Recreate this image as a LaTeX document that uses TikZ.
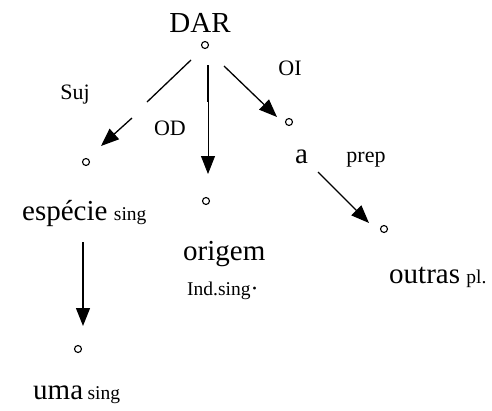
\documentclass[tikz,border=0pt]{standalone}
\usepackage{fontspec}
\setmainfont{Liberation Serif}
\usetikzlibrary{arrows.meta}
\begin{document}
\begin{tikzpicture}[x=1pt,y=-1pt,
  vertex/.style={circle,draw,line width=1.1pt,inner sep=0pt,minimum size=7pt},
  word/.style={font=\fontsize{29}{31}\selectfont,inner sep=0pt,anchor=base west},
  rel/.style={font=\fontsize{22}{24}\selectfont,inner sep=0pt,anchor=base},
  feat/.style={font=\fontsize{19.5}{21}\selectfont,inner sep=0pt,anchor=base west},
  link/.style={line width=1.3pt},
  thinlink/.style={line width=0.8pt},
  head/.style={-{Triangle[length=18pt,width=14pt]}},
]
\useasboundingbox (0,0) rectangle (492,410);

% words and their features
\node[word,anchor=base] (dar) at (200,32) {DAR};
\node[word] (especie) at (22,220) {espécie};
\node[feat] (especieF) at ([xshift=6pt]especie.base east) {sing};
\node[word] (uma) at (33,399) {uma};
\node[feat] (umaF) at ([xshift=4pt]uma.base east) {sing};
\node[word] (origem) at (183,260) {origem};
\node[feat] (origemF) at (187,295) {Ind.sing{\fontsize{24}{24}\selectfont\raisebox{-1pt}{·}}};
\node[word] (a) at (295,163) {a};
\node[word] (outras) at (389,283) {outras};
\node[feat] (outrasF) at ([xshift=6pt]outras.base east) {pl.};

% relation labels
\node[rel] (suj) at (75,99) {Suj};
\node[rel] (od) at (170,135) {OD};
\node[rel] (oi) at (290,75) {OI};
\node[rel] (prep) at (366,162) {prep};

% tree vertices
\node[vertex] (vDar) at (205,45) {};
\node[vertex] (vEspecie) at (86,162) {};
\node[vertex] (vOrigem) at (206,201) {};
\node[vertex] (vA) at (289,122) {};
\node[vertex] (vUma) at (78,349) {};
\node[vertex] (vOutras) at (384,229) {};

% connector end points
\coordinate (sujA) at (191,60);
\coordinate (sujB) at (147,102);
\coordinate (sujC) at (132,118);
\coordinate (sujD) at (101,146);
\coordinate (odA) at (208,65);
\coordinate (odB) at (208,102);
\coordinate (odC) at (208,174);
\coordinate (oiA) at (224,66);
\coordinate (oiB) at (277,117);
\coordinate (umaA) at (83,242);
\coordinate (umaB) at (83,326);
\coordinate (prepA) at (318,172);
\coordinate (prepB) at (369,223);

% connectors
\draw[link] (sujA) -- (sujB);
\draw[link,head] (sujC) -- (sujD);
\draw[link] (odA) -- (odB);
\draw[thinlink,head] (odB) -- (odC);
\draw[link,head] (oiA) -- (oiB);
\draw[link,head] (umaA) -- (umaB);
\draw[link,head] (prepA) -- (prepB);
\end{tikzpicture}
\end{document}
